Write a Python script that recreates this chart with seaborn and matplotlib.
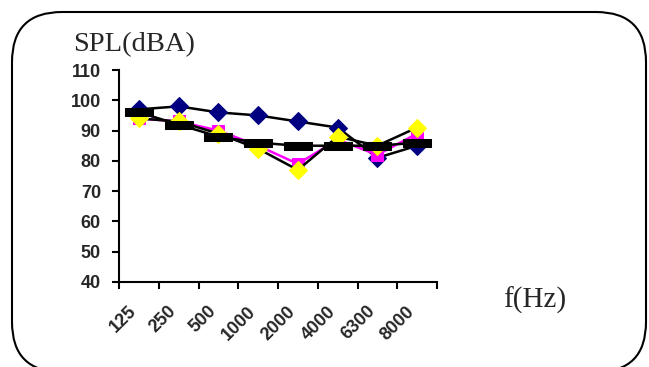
import matplotlib
matplotlib.use("Agg")
import matplotlib.pyplot as plt
import matplotlib.transforms as mtransforms
import seaborn as sns
import numpy as np
from matplotlib.patches import FancyBboxPatch
from matplotlib.path import Path

categories = ["125", "250", "500", "1000", "2000", "4000", "6300", "8000"]
series_navy = [97, 98, 96, 95, 93, 91, 81, 85]
series_magenta = [94, 93, 90, 85, 79, 87, 82, 89]
series_yellow = [94, 93, 89, 84, 77, 88, 85, 91]
series_black = [96, 92, 88, 86, 85, 85, 85, 86]
yticks = [40, 50, 60, 70, 80, 90, 100, 110]

sns.set_style("white")
plt.rcParams['font.family'] = ['Liberation Sans', 'DejaVu Sans']

fig = plt.figure(figsize=(6.49, 3.67), dpi=100)
ax = fig.add_axes([119/649, 1-282/367, (437-119)/649, (282-70)/367])

x = np.arange(len(categories))
dash = Path([(-1, -0.27), (1, -0.27), (1, 0.27), (-1, 0.27), (-1, -0.27)],
            [Path.MOVETO, Path.LINETO, Path.LINETO, Path.LINETO, Path.CLOSEPOLY])

sns.lineplot(x=x, y=series_navy, ax=ax, color="black", lw=1.8, marker="D",
             markersize=9, markerfacecolor="#000080", markeredgecolor="#000080", zorder=3)
sns.lineplot(x=x, y=series_magenta, ax=ax, color="#ff00ff", lw=1.8, marker="s",
             markersize=9, markerfacecolor="#ff00ff", markeredgecolor="#ff00ff", zorder=4)
sns.lineplot(x=x, y=series_yellow, ax=ax, color="black", lw=1.8, marker="D",
             markersize=9, markerfacecolor="#ffff00", markeredgecolor="#ffff00", zorder=5)
sns.lineplot(x=x, y=series_black, ax=ax, color="black", lw=1.8, marker=dash,
             markersize=19.5, markerfacecolor="black", markeredgecolor="black", zorder=6)

ax.set_xlim(-0.5, len(categories) - 0.5)
ax.set_ylim(40, 110)
ax.set_yticks(yticks)
ax.set_yticklabels([str(v) for v in yticks], fontsize=13, fontweight="bold")
ax.set_xticks(np.arange(len(categories) + 1) - 0.5)
ax.set_xticklabels([])
ax.set_xticks(x, minor=True)
ax.set_xticklabels(categories, minor=True, rotation=45, ha="right", va="top",
                   rotation_mode="anchor", fontsize=13, fontweight="bold")
ax.tick_params(axis="x", which="minor", length=0, pad=15)
ax.tick_params(axis="x", which="major", direction="out", length=5, width=1.5, color="black", bottom=True)
ax.tick_params(axis="y", direction="out", length=5, width=1.5, color="black", left=True, pad=8)
offset = mtransforms.ScaledTranslation(-11/100, 0, fig.dpi_scale_trans)
for lab in ax.xaxis.get_minorticklabels():
    lab.set_transform(lab.get_transform() + offset)
for s in ["top", "right"]:
    ax.spines[s].set_visible(False)
for s in ["left", "bottom"]:
    ax.spines[s].set_color("black")
    ax.spines[s].set_linewidth(1.5)
ax.set_xlabel("")
ax.set_ylabel("")

fig.text(73/649, 1-45/367, "SPL(dBA)", family=["Liberation Serif"], fontsize=20.5,
         ha="left", va="center")
fig.text(503/649, 1-300/367, "f(Hz)", family=["Liberation Serif"], fontsize=21,
         ha="left", va="center")

box = FancyBboxPatch((0.12, -0.05), 6.34, 3.60,
                     boxstyle="round,pad=0,rounding_size=0.5",
                     transform=fig.dpi_scale_trans, fill=False, edgecolor="black", lw=1.5)
fig.patches.append(box)

fig.savefig("out.png", dpi=100)
